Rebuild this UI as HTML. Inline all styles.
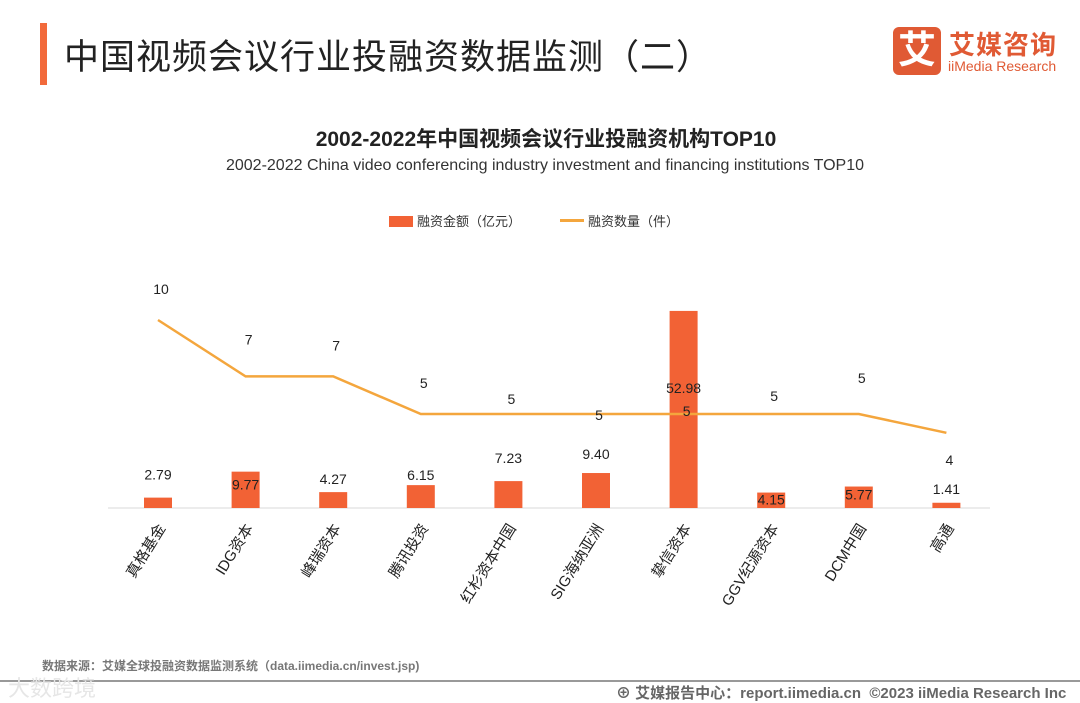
<!DOCTYPE html>
<html><head><meta charset="utf-8"><style>
body{margin:0;width:1080px;height:703px;background:#fff;overflow:hidden;font-family:"Liberation Sans","Noto Sans CJK SC",sans-serif;position:relative}
.abs{position:absolute}
</style></head><body>
<div class="abs" style="left:40px;top:23px;width:7px;height:62px;background:#f26a3b"></div>
<div class="abs" style="left:64px;top:29px;font-size:35px;color:#222;letter-spacing:1px">中国视频会议行业投融资数据监测（二）</div>
<div class="abs" style="left:893px;top:27px;width:48px;height:48px;background:#e05a34;border-radius:6px;color:#fff;font-size:38px;font-weight:bold;text-align:center;line-height:48px">艾</div>
<div class="abs" style="left:949px;top:25px;font-size:26px;font-weight:bold;color:#e05a34;letter-spacing:1px">艾媒咨询</div>
<div class="abs" style="left:948px;top:58px;font-size:14px;color:#e05a34">iiMedia Research</div>
<div class="abs" style="left:0;width:1092px;top:123px;text-align:center;font-size:21px;font-weight:bold;color:#222">2002-2022年中国视频会议行业投融资机构TOP10</div>
<div class="abs" style="left:0;width:1090px;top:157px;text-align:center;font-size:16px;color:#333">2002-2022 China video conferencing industry investment and financing institutions TOP10</div>
<div class="abs" style="left:389px;top:211px;font-size:13px;color:#333"><span style="display:inline-block;width:24px;height:11px;background:#f26235;vertical-align:-1px;margin-right:4px"></span>融资金额（亿元）</div>
<div class="abs" style="left:560px;top:211px;font-size:13px;color:#333"><span style="display:inline-block;width:24px;height:3px;background:#f4a63d;vertical-align:4px;margin-right:4px"></span>融资数量（件）</div>
<svg class="abs" style="left:0;top:0" width="1080" height="703" id="chart"></svg>
<div class="abs" style="left:42px;top:657px;font-size:12px;font-weight:bold;color:#777">数据来源：艾媒全球投融资数据监测系统（data.iimedia.cn/invest.jsp)</div>
<div class="abs" style="left:0;top:680px;width:1080px;height:2px;background:#999"></div>
<div class="abs" style="left:8px;top:671px;font-size:22px;color:#e6e6e6">大数跨境</div>
<div class="abs" style="left:616px;top:682px;font-size:15px;font-weight:bold;color:#666">⊕ 艾媒报告中心：report.iimedia.cn &nbsp;©2023 iiMedia Research Inc</div>
<script>
const categories=["真格基金","IDG资本","峰瑞资本","腾讯投资","红杉资本中国","SIG海纳亚洲","挚信资本","GGV纪源资本","DCM中国","高通"];
const amounts=[2.79,9.77,4.27,6.15,7.23,9.40,52.98,4.15,5.77,1.41];
const counts=[10,7,7,5,5,5,5,5,5,4];
const amountLabels=["2.79","9.77","4.27","6.15","7.23","9.40","52.98","4.15","5.77","1.41"];
const NS="http://www.w3.org/2000/svg";
const svg=document.getElementById('chart');
const base=508,x0=158,step=87.6;
const xs=i=>x0+i*step;
const yBar=v=>base-v*3.72;
const yLine=v=>base-v*18.8;
const barLabOff=[-18,18,-8,-5,-18,-14,82,12,13,-9];
const lineLabOff=[-26,-32,-26,-26,-10,6,2,-13,-31,32];
function mk(t,a){const e=document.createElementNS(NS,t);for(const k in a)e.setAttribute(k,a[k]);svg.appendChild(e);return e;}
const ax=mk('line',{x1:108,x2:990,y1:base,y2:base,stroke:'#d9d9d9','stroke-width':1});


amounts.forEach((v,i)=>{
 const r=mk('rect',{x:xs(i)-14,y:yBar(v),width:28,height:base-yBar(v),fill:'#f26235'});
 
 
 const c=mk('text',{transform:`translate(${xs(i)+8},${base+20}) rotate(-58)`,'text-anchor':'end','font-size':15,fill:'#222'});
 c.textContent=categories[i];
 
 
});
const pts=counts.map((v,i)=>xs(i)+','+yLine(v)).join(' ');
const pl=mk('polyline',{points:pts,fill:'none',stroke:'#f4a63d','stroke-width':2.5});


amounts.forEach((v,i)=>{
 const t=mk('text',{x:xs(i),y:yBar(v)+barLabOff[i],'text-anchor':'middle','font-size':14,fill:'#222'});
 t.textContent=amountLabels[i];
 
 
});
counts.forEach((v,i)=>{
 const t=mk('text',{x:xs(i)+3,y:yLine(v)+lineLabOff[i],'text-anchor':'middle','font-size':14,fill:'#222'});
 t.textContent=v;
 
 
});
</script>
</body></html>
